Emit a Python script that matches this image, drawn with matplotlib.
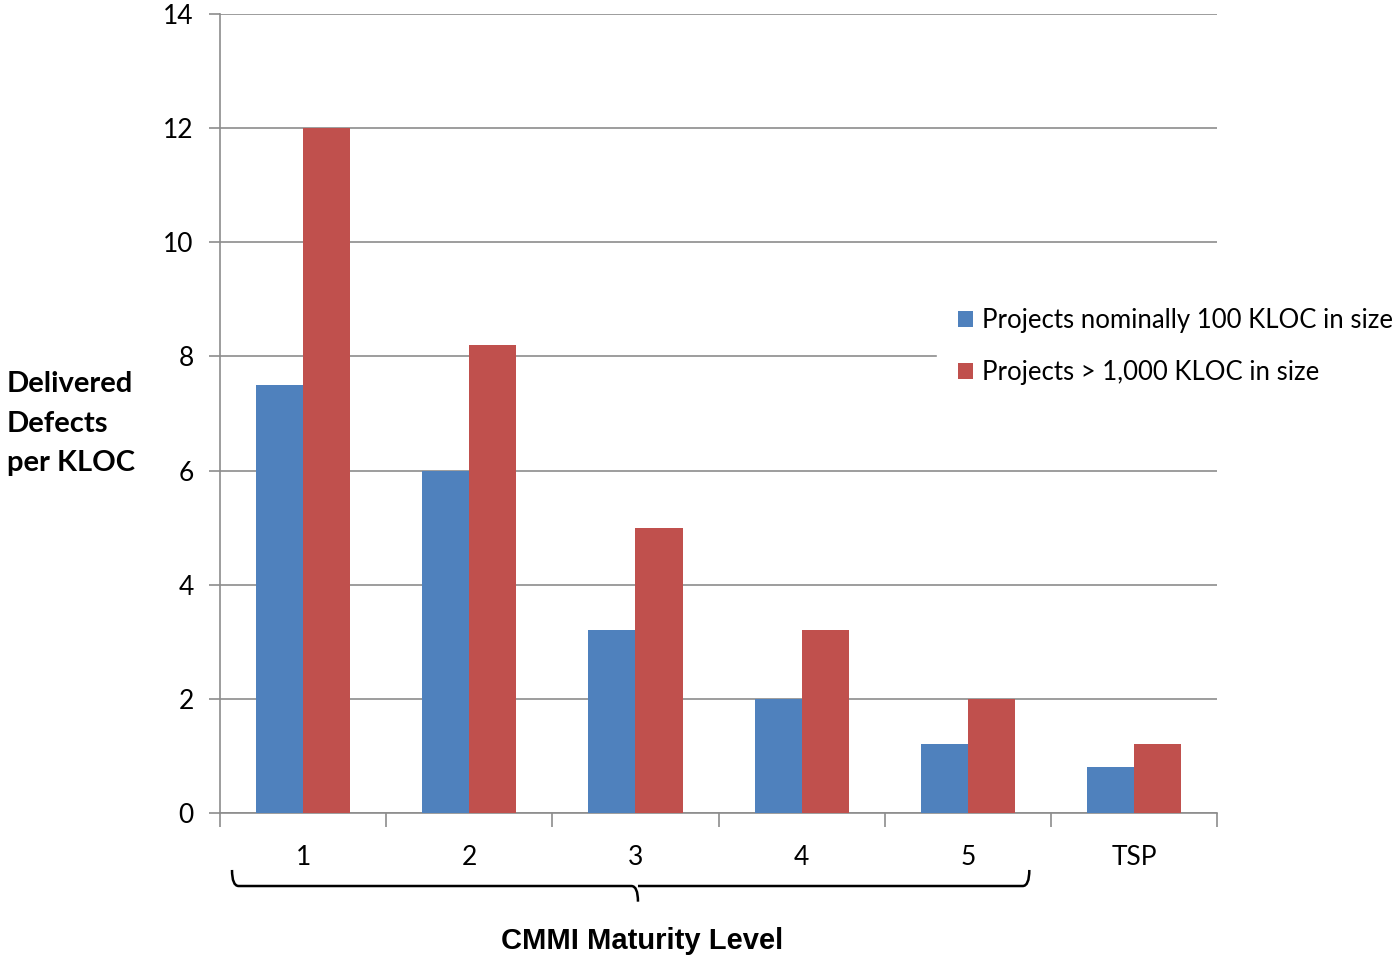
import numpy as np
import matplotlib
matplotlib.use("Agg")
import matplotlib.pyplot as plt
from matplotlib.path import Path
from matplotlib.patches import PathPatch
from matplotlib.transforms import blended_transform_factory

# ── data ─────────────────────────────────────────────────────────────────────
levels       = ["1", "2", "3", "4", "5", "TSP"]
kloc_100     = [7.5, 6.0, 3.2, 2.0, 1.2, 0.8]
kloc_1000    = [12.0, 8.2, 5.0, 3.2, 2.0, 1.2]
series_names = ["Projects nominally 100 KLOC in size",
                "Projects > 1,000 KLOC in size"]
y_ticks      = [0, 2, 4, 6, 8, 10, 12, 14]

BLUE = "#4F81BD"
RED  = "#C0504D"
GRID = "#8C8C8C"
BODY_FONT = "Lato"

fig = plt.figure(figsize=(13.98, 9.56), dpi=100)
ax = fig.add_axes([0.1574, 0.1496, 0.7132, 0.8358])

x = np.arange(len(levels))
w = 0.283
ax.bar(x - w / 2, kloc_100, width=w, color=BLUE, zorder=3, label=series_names[0])
ax.bar(x + w / 2, kloc_1000, width=w, color=RED, zorder=3, label=series_names[1])

ax.set_xlim(-0.5, len(levels) - 0.5)
ax.set_ylim(0, 14)
ax.set_yticks(y_ticks)
ax.set_yticklabels([str(t) for t in y_ticks], fontsize=19, family=BODY_FONT)
ax.yaxis.grid(True, color=GRID, linewidth=1.2, zorder=0)

# category ticks sit between groups, labels centred under each group
ax.set_xticks(np.arange(len(levels) + 1) - 0.5)
ax.set_xticklabels([])
ax.set_xticks(x, minor=True)
ax.set_xticklabels(levels, minor=True, fontsize=19, family=BODY_FONT)
ax.tick_params(axis="x", which="minor", length=0, pad=23)
ax.tick_params(axis="x", which="major", length=10, color=GRID, width=1.2)
ax.tick_params(axis="y", length=8, color=GRID, width=1.2, pad=11)

for side in ("top", "right"):
    ax.spines[side].set_visible(False)
for side in ("left", "bottom"):
    ax.spines[side].set_color(GRID)
    ax.spines[side].set_linewidth(1.2)

# ── brace grouping the CMMI levels 1..5 ─────────────────────────────────────
trans = blended_transform_factory(ax.transData, ax.transAxes)
x0, x1, xm = -0.428, 4.37, 2.015
y_top, y_mid, y_tip = -0.0713, -0.0914, -0.111
r = 0.04
verts = [
    (x0, y_top), (x0, y_mid), (x0 + r, y_mid),
    (xm - r, y_mid), (xm, y_mid), (xm, y_tip),
    (xm, y_mid), (xm + r, y_mid),
    (x1 - r, y_mid), (x1, y_mid), (x1, y_top),
]
codes = [Path.MOVETO, Path.CURVE3, Path.CURVE3,
         Path.LINETO, Path.CURVE3, Path.CURVE3,
         Path.MOVETO, Path.LINETO,
         Path.LINETO, Path.CURVE3, Path.CURVE3]
ax.add_patch(PathPatch(Path(verts, codes), transform=trans, fill=False,
                       edgecolor="black", linewidth=1.8, clip_on=False))

fig.text(0.459, 0.0155, "CMMI Maturity Level", ha="center", va="center",
         fontsize=21, fontweight="bold", family="Liberation Sans")

fig.text(0.005, 0.557, "Delivered\nDefects\nper KLOC", ha="left", va="center",
         fontsize=21, fontweight="bold", family=BODY_FONT, linespacing=1.65)

leg = fig.legend(loc="upper left", bbox_to_anchor=(0.669, 0.691),
                 frameon=True, fancybox=False, edgecolor="white",
                 facecolor="white", framealpha=1.0,
                 prop={"family": BODY_FONT, "size": 18.5},
                 handlelength=0.6, handleheight=0.6, handletextpad=0.35,
                 labelspacing=1.05, borderpad=0.5, borderaxespad=0.0)
leg.get_frame().set_boxstyle("square", pad=0.3)
leg.set_bbox_to_anchor((0.676, 0.691), transform=fig.transFigure)

fig.savefig("out.png", dpi=100)
